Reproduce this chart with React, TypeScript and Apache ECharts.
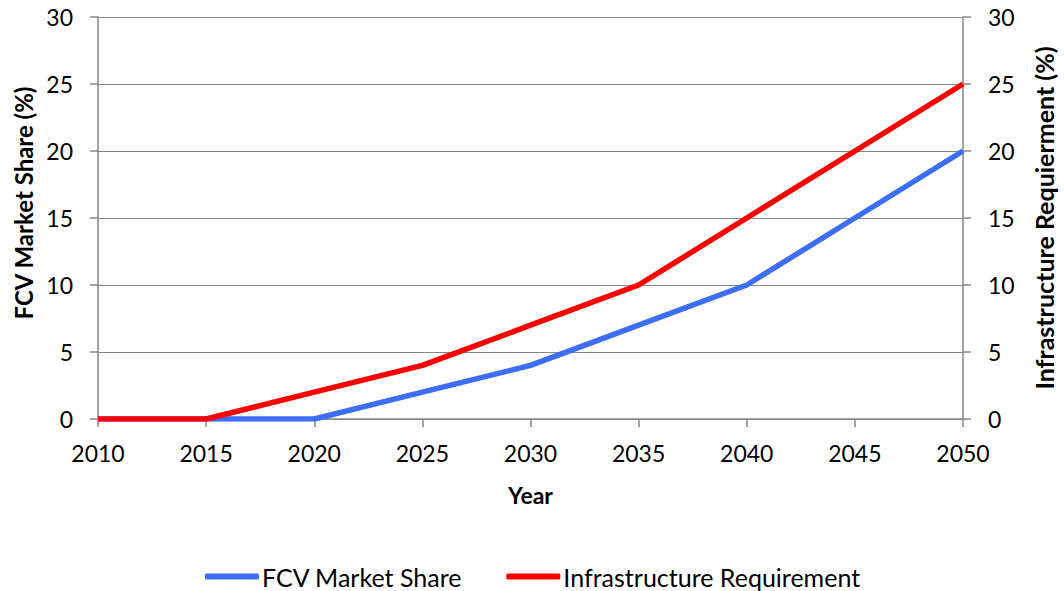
import React, { useEffect, useRef } from "react";
import * as echarts from "echarts";

const years = [2010, 2015, 2020, 2025, 2030, 2035, 2040, 2045, 2050];
const fcvShare = [0, 0, 0, 2, 4, 7, 10, 15, 20];
const infraReq = [0, 0, 2, 4, 7, 10, 15, 20, 25];

const FONT = "Lato";
const GRAY = "#878787";

export default function App() {
  const ref = useRef<HTMLDivElement>(null);
  useEffect(() => {
    if (!ref.current) return;
    const chart = echarts.init(ref.current, undefined, { renderer: "svg" });
    const yAxisBase = {
      type: "value" as const,
      min: 0,
      max: 30,
      interval: 5,
      axisLine: { show: true, lineStyle: { color: GRAY, width: 1.5 } },
      axisTick: { show: true, length: 8, lineStyle: { color: GRAY, width: 1.5 } },
      axisLabel: { color: "#000", fontSize: 23, fontFamily: FONT, margin: 25 },
      splitLine: { show: true, lineStyle: { color: GRAY, width: 1.2 } },
      nameLocation: "middle" as const,
      nameRotate: 90,
    };
    chart.setOption({
      animation: false,
      grid: { left: 98, right: 97, top: 17, bottom: 172, containLabel: false },
      xAxis: {
        type: "value",
        min: 2010,
        max: 2050,
        interval: 5,
        name: "Year",
        nameLocation: "middle",
        nameGap: 64,
        nameTextStyle: { color: "#000", fontSize: 23, fontWeight: "bold", fontFamily: FONT },
        axisLine: { show: true, onZero: false, lineStyle: { color: GRAY, width: 1.5 } },
        axisTick: { show: true, length: 8, lineStyle: { color: GRAY, width: 1.5 } },
        axisLabel: { color: "#000", fontSize: 23, fontFamily: FONT, margin: 22, formatter: (v: number) => String(v) },
        splitLine: { show: false },
      },
      yAxis: [
        {
          ...yAxisBase,
          position: "left",
          name: "FCV Market Share (%)",
          nameGap: 58,
          nameTextStyle: { color: "#000", fontSize: 24, fontWeight: "bold", fontFamily: FONT, padding: [0, 0, 0, 30] },
        },
        {
          ...yAxisBase,
          position: "right",
          name: "Infrastructure Requierment (%)",
          nameGap: 68,
          splitLine: { show: false },
          nameTextStyle: { color: "#000", fontSize: 25, fontWeight: "bold", fontFamily: FONT },
        },
      ],
      legend: {
        left: 205,
        top: 564,
        padding: 0,
        itemWidth: 54,
        itemHeight: 6,
        itemGap: 44,
        icon: "roundRect",
        textStyle: { color: "#000", fontSize: 25, fontFamily: FONT, padding: [0, 0, 0, -2] },
        data: ["FCV Market Share", "Infrastructure Requirement"],
      },
      series: [
        {
          name: "FCV Market Share",
          type: "line",
          yAxisIndex: 0,
          data: years.map((y, i) => [y, fcvShare[i]]),
          showSymbol: false,
          symbol: "none",
          lineStyle: { color: "#3D6EF7", width: 5.5 },
          itemStyle: { color: "#3D6EF7" },
        },
        {
          name: "Infrastructure Requirement",
          type: "line",
          yAxisIndex: 1,
          data: years.map((y, i) => [y, infraReq[i]]),
          showSymbol: false,
          symbol: "none",
          lineStyle: { color: "#FF0000", width: 5.5 },
          itemStyle: { color: "#FF0000" },
        },
      ],
    });
    return () => chart.dispose();
  }, []);
  return <div ref={ref} style={{ width: 1064, height: 591, position: "absolute", left: 0, top: 0, background: "#fff" }} />;
}
